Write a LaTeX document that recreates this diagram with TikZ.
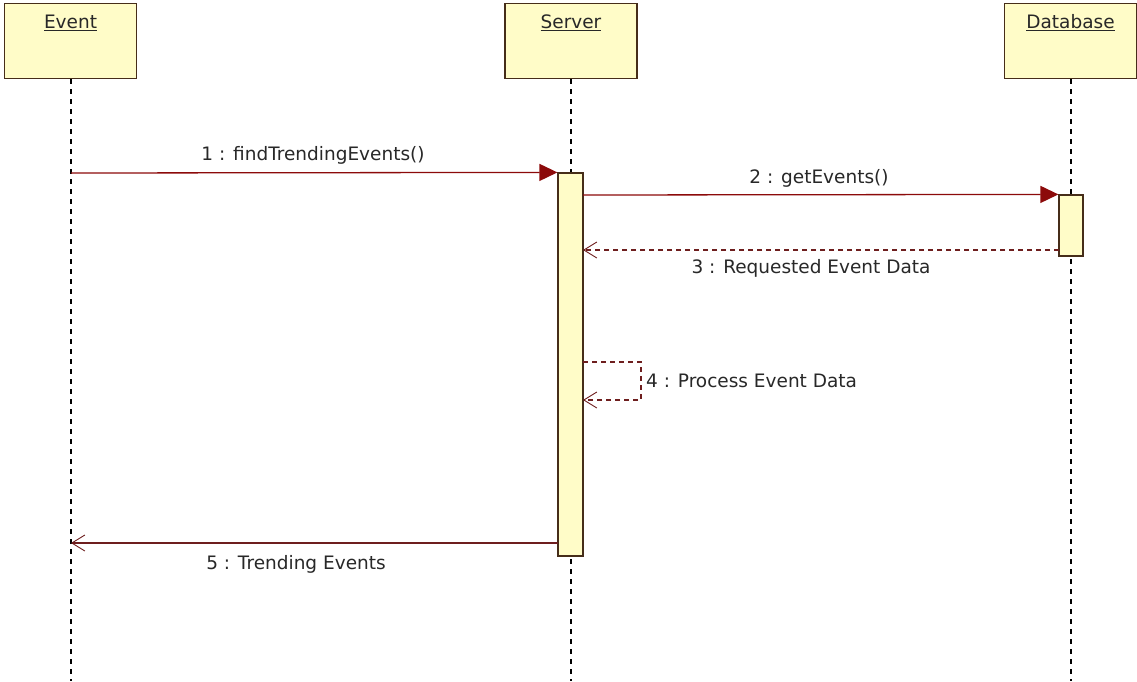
\documentclass[tikz,border=0pt]{standalone}
\usepackage{fontspec}
\setmainfont{DejaVu Sans}
\usetikzlibrary{arrows.meta}
\definecolor{boxfill}{RGB}{255,252,200}
\definecolor{boxline}{RGB}{70,45,25}
\definecolor{msgc}{RGB}{110,30,30}
\definecolor{tipc}{RGB}{140,10,10}
\definecolor{txtc}{RGB}{40,40,40}
\tikzset{
  headbox/.style={draw=boxline, fill=boxfill, line width=1.2pt, minimum width=132pt, minimum height=75pt, inner sep=0pt},
  headtxt/.style={font=\fontsize{18.5}{22}\selectfont, text=txtc, inner sep=0pt},
  actbox/.style={draw=boxline, fill=boxfill, line width=1.2pt, inner sep=0pt},
  lifeline/.style={draw=black, line width=1.2pt, dash pattern=on 5pt off 5pt},
  msgcall/.style={draw=msgc, line width=1.3pt, -{Triangle[length=18pt,width=17pt,fill=tipc]}, tipc},
  msgret/.style={draw=msgc, line width=1.1pt, -{Straight Barb[length=13pt,width=16pt,line width=0.9pt]}},
  dashret/.style={msgret, dash pattern=on 5pt off 4pt},
  msglbl/.style={font=\fontsize{18.5}{22}\selectfont, text=txtc, inner sep=0pt}
}
\begin{document}
\begin{tikzpicture}[x=1pt,y=-1pt]
\useasboundingbox (0,0) rectangle (1137,681);
\fill[white] (0,0) rectangle (1137,681);
% heads
\node[headbox] (evbox) at (70.5,41) {};
\node[headbox] (srvbox) at (571,41) {};
\node[headbox] (dbbox) at (1070.5,41) {};
\node[headtxt] (evlbl) at (70.5,23) {\underline{Event}};
\node[headtxt] (srvlbl) at (571,23) {\underline{Server}};
\node[headtxt] (dblbl) at (1070.5,23) {\underline{Database}};
% lifelines
\coordinate (evend) at (71,681);
\coordinate (srvend) at (571,681);
\coordinate (dbend) at (1071,681);
\draw[lifeline] (evbox.south -| evend) -- (evend);
\draw[lifeline] (srvbox.south) -- (srvend);
\draw[lifeline] (dbbox.south -| dbend) -- (dbend);
% activations
\node[actbox, minimum width=25pt, minimum height=383pt] (srvact) at (570.5,364.5) {};
\node[actbox, minimum width=24pt, minimum height=61pt] (dbact) at (1071,225.5) {};
% message 1
\coordinate (m1s) at (71,173);
\draw[msgcall] (m1s) -- (srvact.north west);
\node[msglbl] (l1) at (313,155) {1 : findTrendingEvents()};
% message 2
\coordinate (m2s) at (583,195);
\draw[msgcall] (m2s) -- (dbact.north west);
\node[msglbl] (l2) at (819,178) {2 : getEvents()};
% message 3
\coordinate (m3s) at (1059,250);
\coordinate (m3e) at (583,250);
\draw[dashret] (m3s) -- (m3e);
\node[msglbl] (l3) at (811,268) {3 : Requested Event Data};
% message 4 (self)
\coordinate (m4a) at (583,362);
\coordinate (m4b) at (641,362);
\coordinate (m4c) at (641,400);
\coordinate (m4d) at (583,400);
\draw[dashret] (m4a) -- (m4b) -- (m4c) -- (m4d);
\node[msglbl, anchor=west] (l4) at (646,381) {4 : Process Event Data};
% message 5
\coordinate (m5s) at (558,543);
\coordinate (m5e) at (71,543);
\draw[msgret] (m5s) -- (m5e);
\node[msglbl] (l5) at (296,564) {5 : Trending Events};
\end{tikzpicture}
\end{document}
